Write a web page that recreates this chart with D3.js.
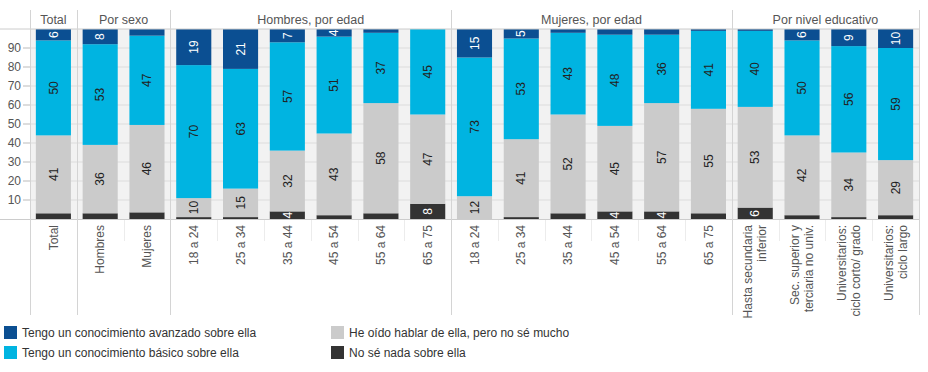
<!DOCTYPE html>
<meta charset="utf-8">
<style>
body { margin: 0; background: #fff; }
svg { font-family: "Liberation Sans", Arial, sans-serif; }
.ylab text { font-size: 12px; fill: #555; }
.xlab text { font-size: 12px; fill: #555; }
.head text { font-size: 12.5px; fill: #555; }
.seg text { font-size: 12px; }
.legend text { font-size: 12px; fill: #333; }
</style>
<svg width="928" height="372"></svg>
<script src="https://d3js.org/d3.v7.min.js"></script>
<script>
var categories = ["Total", "Hombres", "Mujeres",
  "18 a 24", "25 a 34", "35 a 44", "45 a 54", "55 a 64", "65 a 75",
  "18 a 24", "25 a 34", "35 a 44", "45 a 54", "55 a 64", "65 a 75",
  ["Hasta secundaria", "inferior"], ["Sec. superior y", "terciaria no univ."],
  ["Universitarios:", "ciclo corto/ grado"], ["Universitarios:", "ciclo largo"]];
var groups = ["Total", "Por sexo", "Hombres, por edad", "Mujeres, por edad", "Por nivel educativo"];
var groupSizes = [1, 2, 6, 6, 4];

// bottom to top: nada, oido, basico, avanzado
var nada     = [3, 3, 3.5, 1, 1, 4, 2, 3, 8, 0, 1, 3, 4, 4, 3, 6, 2, 1, 2];
var oido     = [41, 36, 46, 10, 15, 32, 43, 58, 47, 12, 41, 52, 45, 57, 55, 53, 42, 34, 29];
var basico   = [50, 53, 47, 70, 63, 57, 51, 37, 45, 73, 53, 43, 48, 36, 41, 40, 50, 56, 59];
var avanzado = [6, 8, 3.5, 19, 21, 7, 4, 2, 0, 15, 5, 2, 3, 3, 1, 1, 6, 9, 10];

var seriesNames = ["Tengo un conocimiento avanzado sobre ella", "Tengo un conocimiento básico sobre ella",
  "He oído hablar de ella, pero no sé mucho", "No sé nada sobre ella"];
var colors = ["#0b4f92", "#00b4e1", "#cbcbcb", "#333333"];
var yTicks = [10, 20, 30, 40, 50, 60, 70, 80, 90];

var svg = d3.select("svg");
var plotL = 30, plotR = 919, plotT = 29, plotB = 219;

var x = d3.scaleBand().domain(d3.range(categories.length)).range([plotL, plotR])
  .paddingInner(0.25).paddingOuter(0.125);
var y = d3.scaleLinear().domain([0, 100]).range([plotB, plotT]);

svg.append("rect").attr("x", plotL).attr("y", plotT)
  .attr("width", plotR - plotL).attr("height", plotB - plotT).attr("fill", "#f2f2f2");

svg.append("g").selectAll("line").data(yTicks).join("line")
  .attr("x1", plotL).attr("x2", plotR)
  .attr("y1", function(d) { return y(d); }).attr("y2", function(d) { return y(d); })
  .attr("stroke", "#dcdcdc");

var yax = svg.append("g").attr("class", "ylab");
yax.selectAll("line").data(yTicks).join("line")
  .attr("x1", 23).attr("x2", plotL)
  .attr("y1", function(d) { return y(d); }).attr("y2", function(d) { return y(d); })
  .attr("stroke", "#bbb");
yax.selectAll("text").data(yTicks).join("text")
  .attr("x", 21).attr("y", function(d) { return y(d); }).attr("dy", "0.35em")
  .attr("text-anchor", "end").text(function(d) { return d; });

// faint ticks between categories below the axis
svg.append("g").selectAll("line").data(d3.range(1, categories.length)).join("line")
  .attr("x1", function(d) { return Math.round(plotL + d * x.step()) + 0.5; })
  .attr("x2", function(d) { return Math.round(plotL + d * x.step()) + 0.5; })
  .attr("y1", plotB).attr("y2", plotB + 22).attr("stroke", "#ececec");

// stacked bars
var rows = categories.map(function(c, i) {
  return { i: i, nada: nada[i], oido: oido[i], basico: basico[i], avanzado: avanzado[i] };
});
var keys = ["avanzado", "basico", "oido", "nada"];
var stack = d3.stack().keys(keys.slice().reverse())(rows);
var txtColor = { avanzado: "#fff", basico: "#222", oido: "#222", nada: "#fff" };

var defs = svg.append("defs");
var seg = svg.append("g").attr("class", "seg");
stack.forEach(function(layer) {
  var k = layer.key, ci = keys.indexOf(k);
  var g = seg.append("g");
  g.selectAll("rect").data(layer).join("rect")
    .attr("x", function(d) { return x(d.data.i); })
    .attr("width", x.bandwidth())
    .attr("y", function(d) { return y(d[1]); })
    .attr("height", function(d) { return y(d[0]) - y(d[1]); })
    .attr("fill", colors[ci]);
  // labels clipped to their own segment
  layer.filter(function(d) { return d[1] - d[0] >= 4; }).forEach(function(d) {
    var id = "c-" + k + "-" + d.data.i;
    defs.append("clipPath").attr("id", id).append("rect")
      .attr("x", x(d.data.i)).attr("width", x.bandwidth())
      .attr("y", y(d[1])).attr("height", y(d[0]) - y(d[1]));
    g.append("g").attr("clip-path", "url(#" + id + ")")
      .append("text")
      .attr("transform", "translate(" + (x(d.data.i) + x.bandwidth() / 2) + "," + y((d[0] + d[1]) / 2) + ") rotate(-90)")
      .attr("text-anchor", "middle").attr("dy", "0.35em")
      .attr("fill", txtColor[k])
      .text(Math.round(d[1] - d[0]));
  });
});

// axis lines
svg.append("line").attr("x1", 0).attr("x2", plotR).attr("y1", plotT).attr("y2", plotT).attr("stroke", "#ccc");
svg.append("line").attr("x1", 0).attr("x2", plotR).attr("y1", plotB + 0.5).attr("y2", plotB + 0.5).attr("stroke", "#ccc");

// group separators and headers
var bounds = [0];
groupSizes.forEach(function(n, i) { bounds.push(bounds[i] + n); });
var step = x.step();
function edge(k) { return plotL + k * step; }

svg.append("g").selectAll("line").data(bounds).join("line")
  .attr("x1", function(d) { return Math.round(edge(d)) + 0.5; })
  .attr("x2", function(d) { return Math.round(edge(d)) + 0.5; })
  .attr("y1", 10).attr("y2", 315).attr("stroke", "#d4d4d4");

svg.append("g").attr("class", "head").selectAll("text").data(groups).join("text")
  .attr("x", function(d, i) { return (edge(bounds[i]) + edge(bounds[i + 1])) / 2; })
  .attr("y", 24).attr("text-anchor", "middle").text(function(d) { return d; });

// category labels
var xl = svg.append("g").attr("class", "xlab");
categories.forEach(function(c, i) {
  var lines = Array.isArray(c) ? c : [c];
  var cx = x(i) + x.bandwidth() / 2;
  var t = xl.append("text")
    .attr("transform", "translate(" + cx + "," + (plotB + 6) + ") rotate(-90)")
    .attr("text-anchor", "end");
  lines.forEach(function(s, j) {
    t.append("tspan").attr("x", 0)
      .attr("y", (j - (lines.length - 1) / 2) * 14)
      .attr("dy", "0.35em").text(s);
  });
});

// legend
var legPos = [[4, 333], [4, 353], [331, 333], [331, 353]];
var leg = svg.append("g").attr("class", "legend");
seriesNames.forEach(function(n, i) {
  leg.append("rect").attr("x", legPos[i][0]).attr("y", legPos[i][1] - 7)
    .attr("width", 13).attr("height", 13).attr("fill", colors[i]);
  leg.append("text").attr("x", legPos[i][0] + 18).attr("y", legPos[i][1])
    .attr("dy", "0.35em").text(n);
});
</script>
